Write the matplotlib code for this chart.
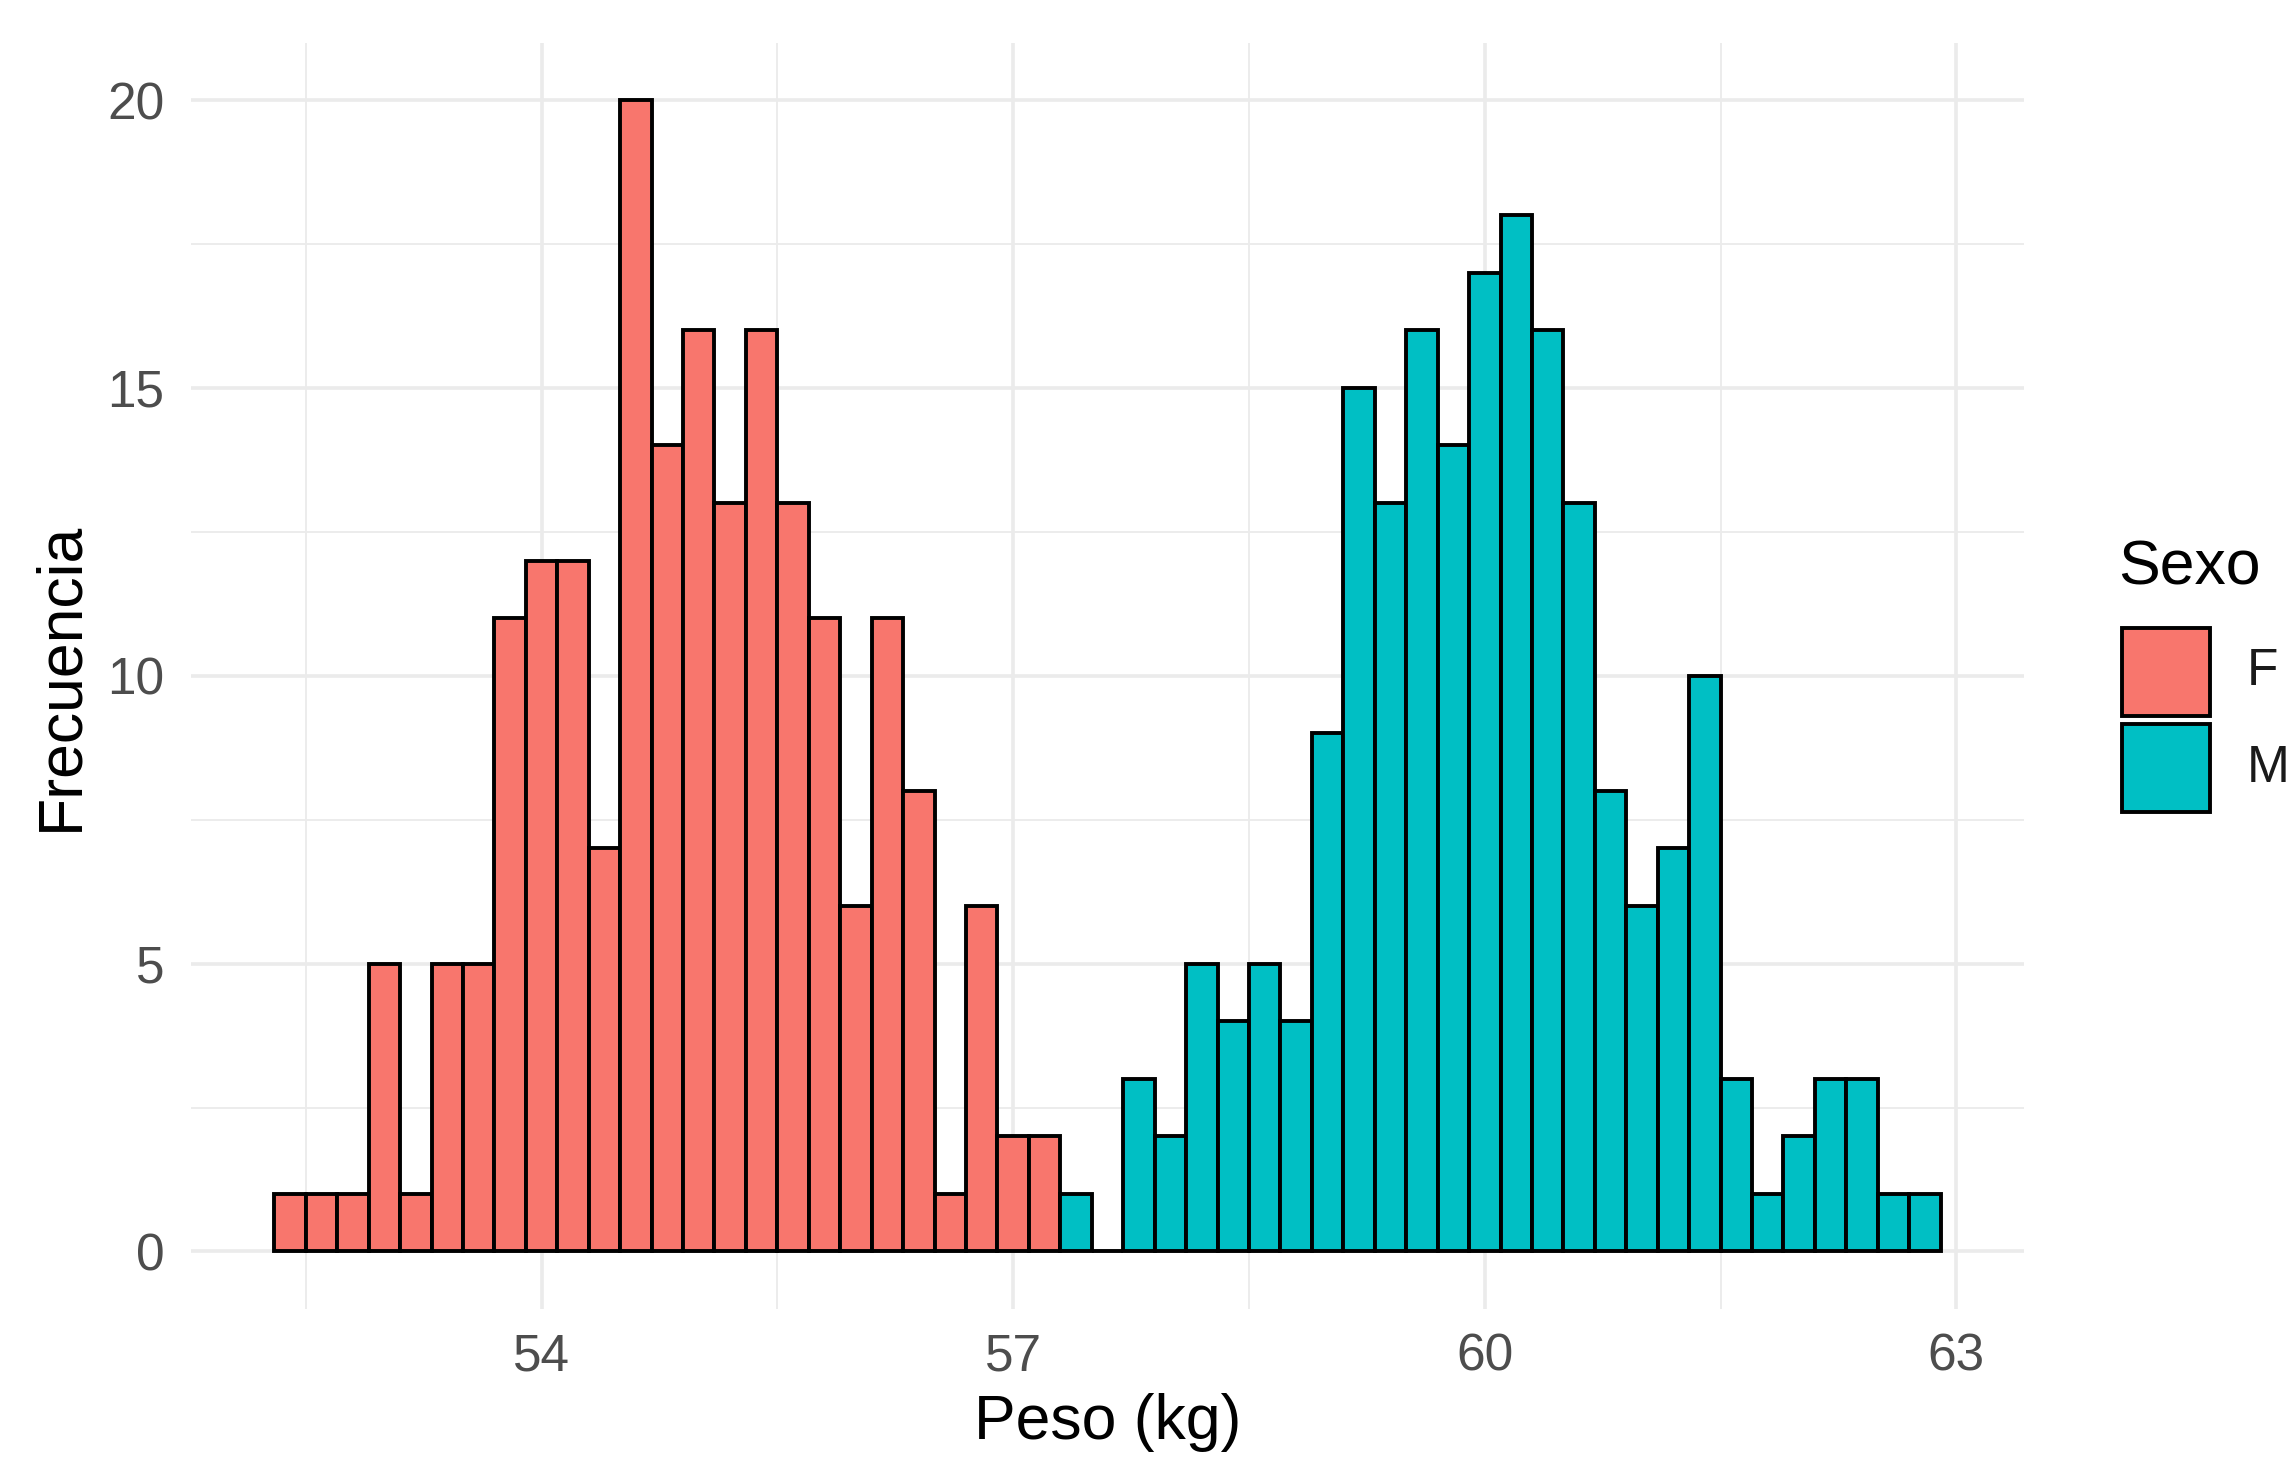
import matplotlib
matplotlib.use("Agg")
import matplotlib.pyplot as plt
from matplotlib.patches import Rectangle
import numpy as np

plt.rcParams['font.family'] = ['Liberation Sans', 'DejaVu Sans']

# ---- data ----
bin_start = 52.3
bin_width = 0.2
counts_F = [1, 1, 1, 5, 1, 5, 5, 11, 12, 12, 7, 20, 14, 16, 13, 16, 13, 11, 6, 11, 8, 1, 6, 2, 2,
            0, 0, 0, 0, 0, 0, 0, 0, 0, 0, 0, 0, 0, 0, 0, 0, 0, 0, 0, 0, 0, 0, 0, 0, 0, 0, 0, 0]
counts_M = [0] * 25 + [1, 0, 3, 2, 5, 4, 5, 4, 9, 15, 13, 16, 14, 17, 18, 16, 13, 8, 6, 7, 10,
                       3, 1, 2, 3, 3, 1, 1]
groups = ["F", "M"]
colors = {"F": "#F8766D", "M": "#00BFC4"}
x_ticks = [54, 57, 60, 63]
y_ticks = [0, 5, 10, 15, 20]
x_minor = [52.5, 55.5, 58.5, 61.5]
y_minor = [2.5, 7.5, 12.5, 17.5]

n = len(counts_F)
lefts = bin_start + bin_width * np.arange(n)
cF = np.array(counts_F)
cM = np.array(counts_M)

W, H = 2295, 1461
fig = plt.figure(figsize=(W / 100, H / 100), dpi=100)
ax = fig.add_axes([191 / W, 1 - 1309 / H, (2024 - 191) / W, (1309 - 42.5) / H])

grid_c = "#EBEBEB"
for v in y_minor:
    ax.axhline(v, color=grid_c, lw=1.3, zorder=0)
for v in x_minor:
    ax.axvline(v, color=grid_c, lw=1.3, zorder=0)
for v in y_ticks:
    ax.axhline(v, color=grid_c, lw=2.6, zorder=0)
for v in x_ticks:
    ax.axvline(v, color=grid_c, lw=2.6, zorder=0)

edge_lw = 2.8
maskF = cF > 0
maskM = cM > 0
empty = ~(maskF | maskM)
ax.bar(lefts[maskF], cF[maskF], width=bin_width, align='edge', color=colors["F"],
       edgecolor="black", linewidth=edge_lw, zorder=3)
ax.bar(lefts[maskM], cM[maskM], width=bin_width, align='edge', bottom=cF[maskM],
       color=colors["M"], edgecolor="black", linewidth=edge_lw, zorder=3)
for l in lefts[empty]:
    ax.plot([l, l + bin_width], [0, 0], color="black", lw=edge_lw, zorder=3,
            solid_capstyle='butt')

xmin, xmax = lefts[0], lefts[-1] + bin_width
xr = xmax - xmin
ax.set_xlim(xmin - 0.05 * xr, xmax + 0.05 * xr)
ax.set_ylim(-1, 21)
ax.set_xticks(x_ticks)
ax.set_yticks(y_ticks)
ax.set_xticklabels([str(v) for v in x_ticks])
ax.set_yticklabels([str(v) for v in y_ticks])
ax.tick_params(length=0, labelsize=37, colors="#4D4D4D")
ax.tick_params(axis='y', pad=19)
ax.tick_params(axis='x', pad=17)
for s in ax.spines.values():
    s.set_visible(False)
ax.set_facecolor("white")

fig.text(1108 / W, 1 - 1423 / H, "Peso (kg)", fontsize=45, ha='center', va='center', color="black")
fig.text(61 / W, 1 - 676 / H, "Frecuencia", fontsize=45, ha='center', va='center',
         rotation=90, color="black")

# legend
fig.text(2118 / W, 1 - 568 / H, "Sexo", fontsize=45, ha='left', va='center', color="black")
key_x, key_w = 2122, 88
key_tops = [628, 724]
for g, t in zip(groups, key_tops):
    fig.patches.append(Rectangle((key_x / W, 1 - (t + key_w) / H), key_w / W, key_w / H,
                                 transform=fig.transFigure, facecolor=colors[g],
                                 edgecolor="black", linewidth=edge_lw))
    fig.text(2247 / W, 1 - (t + key_w / 2) / H, g, fontsize=37, ha='left', va='center',
             color="#1A1A1A")

fig.savefig("out.png", dpi=100, facecolor="white")
